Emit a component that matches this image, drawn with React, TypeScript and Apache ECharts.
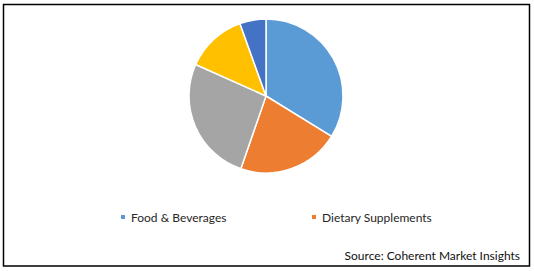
import React, { useEffect, useRef } from "react";
import * as echarts from "echarts";

const categories = ["Food & Beverages", "Dietary Supplements", "Pharmaceuticals", "Personal Care", "Others"];
const values = [33.8, 21.5, 26.4, 12.8, 5.5];
const colors = ["#5B9BD5", "#ED7D31", "#A5A5A5", "#FFC000", "#4472C4"];
const legendItems = ["Food & Beverages", "Dietary Supplements"];
const sourceText = "Source: Coherent Market Insights";

export default function App() {
  const ref = useRef<HTMLDivElement>(null);
  useEffect(() => {
    if (!ref.current) return;
    const chart = echarts.init(ref.current, null, { renderer: "svg" });
    const font = "Lato";
    chart.setOption({
      animation: false,
      backgroundColor: "#ffffff",
      color: colors,
      legend: legendItems.map((name, i) => ({
        data: [name],
        left: i === 0 ? 114 : 305,
        top: 206,
        icon: "rect",
        itemWidth: 6,
        itemHeight: 6,
        itemGap: 4,
        textStyle: { fontFamily: font, fontSize: 12, color: "#262626" },
        selectedMode: false,
      })),
      graphic: [
        {
          type: "rect",
          shape: { x: 3.5, y: 4.5, width: 526, height: 261.5 },
          style: { fill: "none", stroke: "#000000", lineWidth: 1.5 },
          silent: true,
        },
        {
          type: "text",
          right: 14,
          top: 249,
          style: { text: sourceText, fontFamily: font, fontSize: 12, fill: "#111111" },
        },
      ],
      series: [
        {
          type: "pie",
          center: [266, 96],
          radius: 77,
          startAngle: 90,
          clockwise: true,
          label: { show: false },
          labelLine: { show: false },
          itemStyle: { borderColor: "#ffffff", borderWidth: 1.5 },
          emphasis: { disabled: true },
          data: categories.map((name, i) => ({ name, value: values[i] })),
        },
      ],
    });
    return () => chart.dispose();
  }, []);
  return <div ref={ref} style={{ position: "fixed", left: 0, top: 0, width: 534, height: 271 }} />;
}
